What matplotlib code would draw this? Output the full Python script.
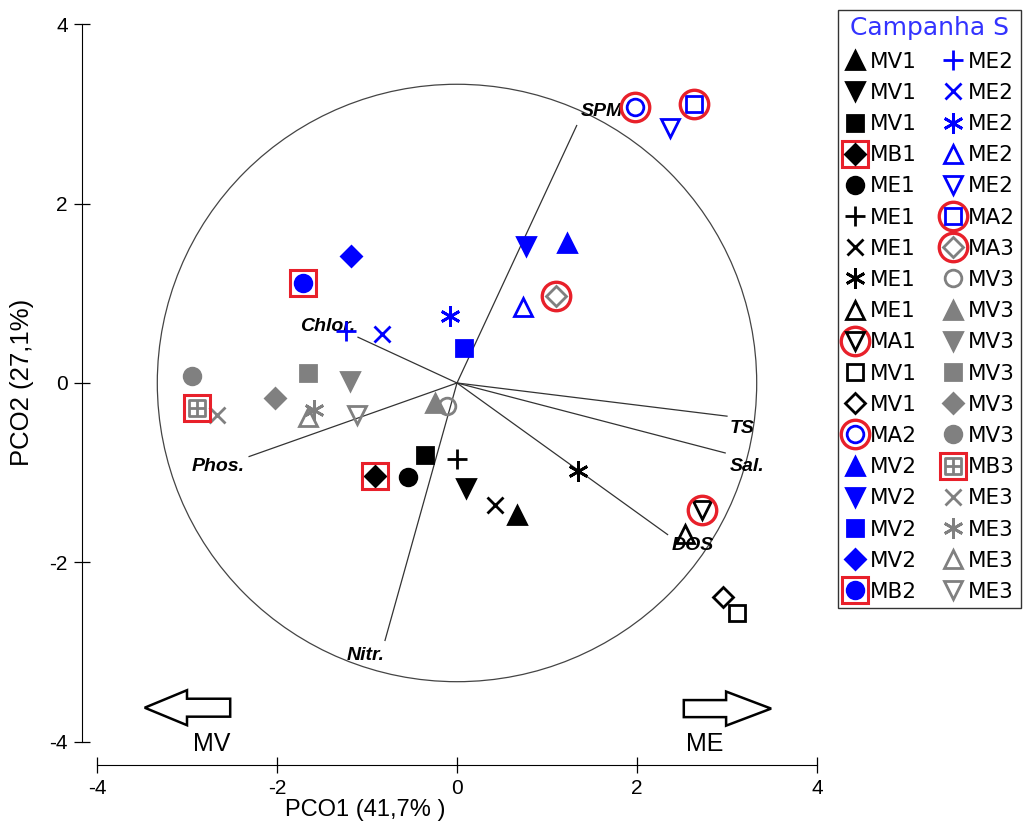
import numpy as np
import matplotlib.pyplot as plt
from matplotlib.patches import Circle, FancyArrow
from matplotlib.path import Path
from matplotlib.legend_handler import HandlerTuple

plt.rcParams['font.family'] = ['Liberation Sans', 'DejaVu Sans']
plt.rcParams['axes.unicode_minus'] = False

# amostras: rótulo, coordenadas PCO1 / PCO2
labels = ['MV1', 'MV1', 'MV1', 'MB1', 'ME1', 'ME1', 'ME1', 'ME1', 'ME1',
          'MA1', 'MV1', 'MV1', 'MA2', 'MV2', 'MV2', 'MV2', 'MV2', 'MB2',
          'ME2', 'ME2', 'ME2', 'ME2', 'ME2', 'MA2', 'MA3', 'MV3', 'MV3',
          'MV3', 'MV3', 'MV3', 'MV3', 'MB3', 'ME3', 'ME3', 'ME3', 'ME3']
pco1 = [0.67, 0.10, -0.36, -0.91, -0.54, 0.00, 0.42, 1.34, 2.53,
        2.72, 3.11, 2.96, 1.98, 1.22, 0.77, 0.08, -1.18, -1.71,
        -1.23, -0.83, -0.08, 0.73, 2.37, 2.63, 1.10, -0.11, -0.24,
        -1.19, -1.66, -2.02, -2.94, -2.89, -2.67, -1.59, -1.66, -1.11]
pco2 = [-1.47, -1.17, -0.80, -1.04, -1.05, -0.85, -1.36, -0.98, -1.68,
        -1.42, -2.56, -2.39, 3.08, 1.56, 1.53, 0.39, 1.42, 1.11,
        0.58, 0.55, 0.75, 0.85, 2.84, 3.11, 0.97, -0.26, -0.22,
        0.02, 0.11, -0.17, 0.08, -0.28, -0.36, -0.30, -0.38, -0.36]

ast = (6, 2, 0)
grid_sq = Path([(-1, -1), (1, -1), (1, 1), (-1, 1), (-1, -1),
                (0, -1), (0, 1), (-1, 0), (1, 0)],
               [Path.MOVETO, Path.LINETO, Path.LINETO, Path.LINETO, Path.CLOSEPOLY,
                Path.MOVETO, Path.LINETO, Path.MOVETO, Path.LINETO])
markers = ['^', 'v', 's', 'D', 'o', '+', 'x', ast, '^',
           'v', 's', 'D', 'o', '^', 'v', 's', 'D', 'o',
           '+', 'x', ast, '^', 'v', 's', 'D', 'o', '^',
           'v', 's', 'D', 'o', grid_sq, 'x', ast, '^', 'v']
cores = ['k'] * 12 + ['b'] * 12 + ['g'] * 12
cheio = [1, 1, 1, 1, 1, 0, 0, 0, 0,
         0, 0, 0, 0, 1, 1, 1, 1, 1,
         0, 0, 0, 0, 0, 0, 0, 0, 1,
         1, 1, 1, 1, 0, 0, 0, 0, 0]
destaque = ['', '', '', 'box', '', '', '', '', '',
            'ring', '', '', 'ring', '', '', '', '', 'box',
            '', '', '', '', '', 'ring', 'ring', '', '',
            '', '', '', '', 'box', '', '', '', '']

# vetores das variáveis
variaveis = ['SPM', 'Chlor.', 'Phos.', 'Nitr.', 'TS', 'Sal.', 'DOS']
vx = [1.33, -1.10, -2.31, -0.80, 3.00, 2.98, 2.34]
vy = [2.87, 0.51, -0.82, -2.87, -0.37, -0.78, -1.69]
# deslocamento do texto (pontos) e alinhamento
txt_off = [(3, 10), (-2, 8), (-3, -7), (0, -11), (2, -9), (3, -10), (3, -8)]
txt_ha = ['left', 'right', 'right', 'right', 'left', 'left', 'left']

cmap = {'k': 'black', 'b': '#0000ff', 'g': '#808080'}
vermelho = '#e8202a'
tam = {'^': 13, 'v': 13, 's': 11.5, 'D': 10, 'o': 12, '+': 14, 'x': 11.5}

fig = plt.figure(figsize=(10.29, 8.25), dpi=100)
ax = fig.add_axes([79 / 1029, (825 - 768.7) / 825, 742.5 / 1029, 753.5 / 825])
ax.set_xlim(-4.2, 4.05)
ax.set_ylim(-4.3, 4.1)

ax.add_patch(Circle((0, 0), 3.33, fill=False, ec='#444444', lw=0.9))
for nome, x, y, off, ha in zip(variaveis, vx, vy, txt_off, txt_ha):
    ax.plot([0, x], [0, y], color='#333333', lw=0.9)
    ax.annotate(nome, (x, y), xytext=off, textcoords='offset points',
                ha=ha, va='center', fontsize=14, fontstyle='italic',
                fontweight='bold')

handles = []
for i in range(len(labels)):
    c = cmap[cores[i]]
    m = markers[i]
    if m == ast:
        ms = 14.5
    elif m is grid_sq:
        ms = 12
    else:
        ms = tam[m]
    fc = c if cheio[i] else 'none'
    h = ax.plot(pco1[i], pco2[i], ls='none', marker=m, ms=ms, mfc=fc,
                mec=c, mew=2.0, zorder=3)[0]
    if destaque[i] == 'box':
        r = ax.plot(pco1[i], pco2[i], ls='none', marker='s', ms=19,
                    mfc='none', mec=vermelho, mew=2.2, zorder=4)[0]
        h = (r, h)
    elif destaque[i] == 'ring':
        r = ax.plot(pco1[i], pco2[i], ls='none', marker='o', ms=20.5,
                    mfc='none', mec=vermelho, mew=2.4, zorder=4)[0]
        h = (r, h)
    handles.append(h)

# setas MV / ME
ax.add_patch(FancyArrow(-2.52, -3.62, -0.95, 0, width=0.2, head_width=0.39,
                        head_length=0.47, length_includes_head=True,
                        fc='white', ec='black', lw=1.8))
ax.add_patch(FancyArrow(2.52, -3.63, 0.97, 0, width=0.19, head_width=0.38,
                        head_length=0.5, length_includes_head=True,
                        fc='white', ec='black', lw=1.8))
ax.text(-2.73, -4.02, 'MV', ha='center', va='center', fontsize=18)
ax.text(2.75, -4.02, 'ME', ha='center', va='center', fontsize=18)

for s in ('top', 'right'):
    ax.spines[s].set_visible(False)
ax.spines['left'].set_position(('data', -4.17))
ax.spines['left'].set_bounds(-4, 4)
ax.spines['bottom'].set_position(('data', -4.26))
ax.spines['bottom'].set_bounds(-4, 4)
ax.set_xticks([-4, -2, 0, 2, 4])
ax.set_yticks([-4, -2, 0, 2, 4])
ax.tick_params(direction='inout', length=12, width=0.9, labelsize=15, pad=4)

fig.text(365 / 1029, 1 - 810 / 825, 'PCO1 (41,7% )', fontsize=17,
         ha='center', va='center')
fig.text(22 / 1029, 1 - 382 / 825, 'PCO2 (27,1%)', fontsize=18.5,
         rotation=90, ha='center', va='center')

leg = ax.legend(handles, labels, ncol=2, loc='upper left',
                bbox_to_anchor=(838 / 1029, 1 - 10 / 825),
                bbox_transform=fig.transFigure,
                handler_map={tuple: HandlerTuple(ndivide=1, pad=0)},
                title='Campanha S', title_fontsize=18,
                prop={'family': 'DejaVu Sans', 'size': 15.5},
                frameon=True, fancybox=False, edgecolor='black',
                labelspacing=0.52, handlelength=1.0, handletextpad=0.2,
                columnspacing=1.15, borderpad=0.3, borderaxespad=0)
leg.get_title().set_color('#3333ff')
leg.get_title().set_family('DejaVu Sans')
leg.get_frame().set_linewidth(1.0)

fig.savefig('out.png', dpi=100)
